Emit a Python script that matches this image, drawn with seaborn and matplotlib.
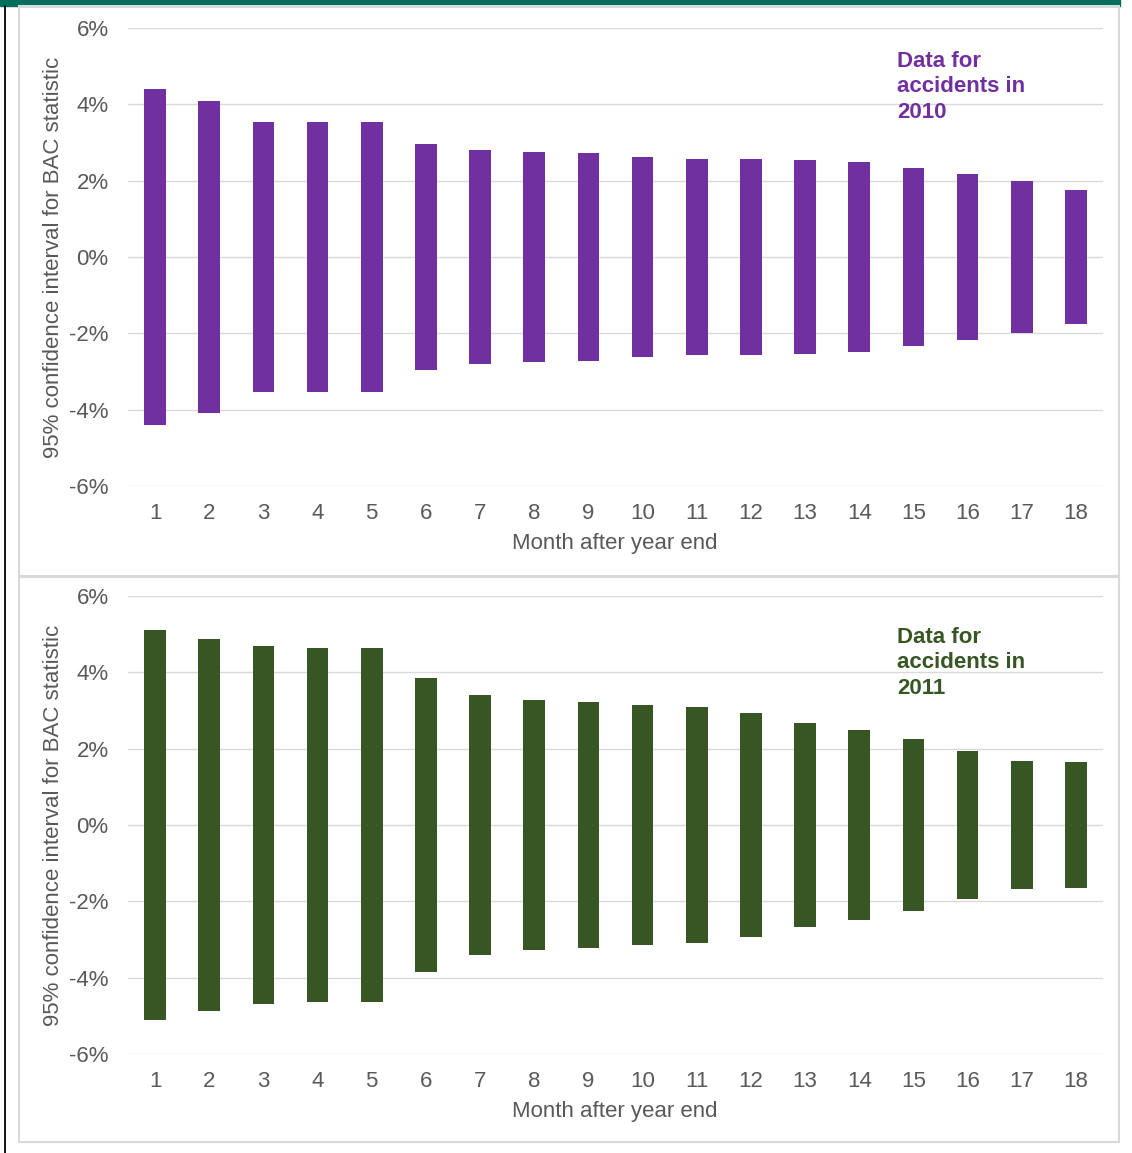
import matplotlib
matplotlib.use("Agg")
import matplotlib.pyplot as plt
import seaborn as sns
import pandas as pd
from matplotlib.patches import Rectangle
from matplotlib.lines import Line2D
from matplotlib.ticker import FuncFormatter

# ---- data (half-width of 95% CI, in %) ----
months = list(range(1, 19))
ci_2010 = [4.40, 4.08, 3.55, 3.55, 3.55, 2.95, 2.80, 2.75, 2.72, 2.63,
           2.58, 2.58, 2.54, 2.48, 2.32, 2.17, 1.98, 1.75]
ci_2011 = [5.12, 4.87, 4.70, 4.63, 4.63, 3.85, 3.41, 3.27, 3.22, 3.14,
           3.08, 2.94, 2.66, 2.48, 2.25, 1.94, 1.68, 1.64]
yticks = [-6, -4, -2, 0, 2, 4, 6]
panel_titles = ["Data for\naccidents in\n2010", "Data for\naccidents in\n2011"]
xlabel = "Month after year end"
ylabel = "95% confidence interval for BAC statistic"

purple = "#7030A0"
green = "#375623"
grid_c = "#D9D9D9"
text_c = "#595959"

sns.set_theme(style="white")
plt.rcParams["font.family"] = ["Liberation Sans", "DejaVu Sans"]

W, H = 1132, 1153
fig = plt.figure(figsize=(W / 100, H / 100), dpi=100)

def fx(px):
    return px / W

def fy(py):
    return 1 - py / H

# decorations: green top band, left black line, panel borders
fig.patches.append(Rectangle((0, fy(6)), fx(1120), 6 / H, transform=fig.transFigure,
                             color="#006E5A", zorder=0))
fig.lines.append(Line2D([fx(4.5), fx(4.5)], [fy(6), 0], transform=fig.transFigure,
                        color="black", lw=1.3))
for (y0, y1) in [(6, 576), (577, 1142)]:
    fig.patches.append(Rectangle((fx(19), fy(y1)), fx(1119) - fx(19), (y1 - y0) / H,
                                 transform=fig.transFigure, fill=False,
                                 edgecolor=grid_c, lw=1.5, zorder=0))

axes_specs = [(28, 486, ci_2010, purple, panel_titles[0], 51),
              (596, 1054, ci_2011, green, panel_titles[1], 627)]

FS = 16
for top, bot, vals, col, title, ty in axes_specs:
    ax = fig.add_axes([fx(128), fy(bot), fx(1103) - fx(128), (bot - top) / H])
    df = pd.DataFrame({"month": months, "upper": vals, "lower": [-v for v in vals]})
    sns.barplot(data=df, x="month", y="upper", color=col, saturation=1, width=0.4,
                ax=ax, zorder=3, edgecolor="none")
    sns.barplot(data=df, x="month", y="lower", color=col, saturation=1, width=0.4,
                ax=ax, zorder=3, edgecolor="none")
    ax.set_xlim(-0.5, 17.5)
    ax.set_ylim(-6, 6)
    ax.set_yticks(yticks)
    ax.yaxis.set_major_formatter(FuncFormatter(lambda v, p: f"{int(round(v))}%"))
    ax.grid(axis="y", color=grid_c, lw=1.0, zorder=0)
    ax.grid(axis="x", visible=False)
    ax.set_axisbelow(True)
    for s in ax.spines.values():
        s.set_visible(False)
    ax.tick_params(axis="both", length=0, colors=text_c, labelsize=FS)
    ax.tick_params(axis="y", pad=14)
    ax.tick_params(axis="x", pad=12)
    ax.set_xlabel(xlabel, color=text_c, fontsize=FS)
    ax.set_ylabel(ylabel, color=text_c, fontsize=FS)
    ax.xaxis.set_label_coords(0.4995, (486 - 543) / 458)
    ax.xaxis.label.set_va("center")
    ax.yaxis.set_label_coords((54 - 128) / 975, 0.5)
    ax.yaxis.label.set_va("center")
    fig.text(fx(897), fy(ty), title, color=col, fontsize=FS, fontweight="bold",
             va="top", ha="left", linespacing=1.27)

fig.savefig("out.png", dpi=100)
